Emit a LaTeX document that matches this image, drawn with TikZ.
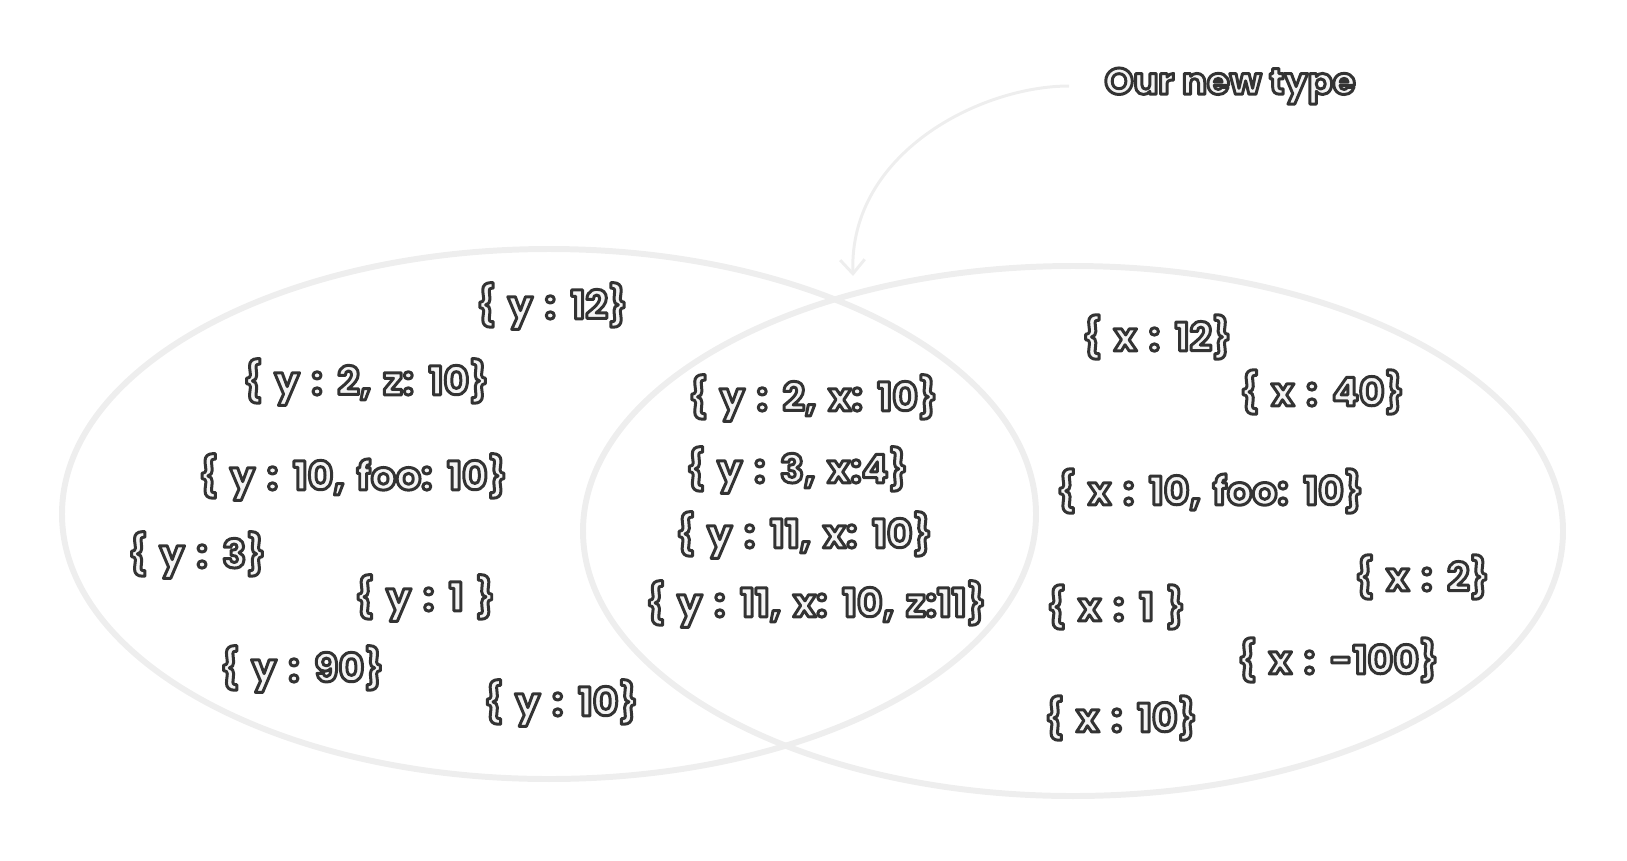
\documentclass[tikz,border=0pt]{standalone}
\usepackage{fontspec}
\setmainfont{Poppins}
\usetikzlibrary{positioning, arrows.meta}
\definecolor{setGray}{HTML}{EEEEEE}
\definecolor{inkFill}{HTML}{F4F4F4}
% outlined lettering: fill light, stroke dark
\newcommand{\handtext}[1]{\textcolor{inkFill}{\special{pdf:literal direct 0.2 0.2 0.2 RG 2 Tr 1.7 w 1 j}#1\special{pdf:literal direct 0 Tr}}}
\newcommand{\valuefont}{\fontsize{22.5}{26}\selectfont\bfseries\spaceskip=0.3em\relax}
\newcommand{\titlefont}{\fontsize{21}{25}\selectfont\bfseries\relax}
\tikzstyle{valueLabel} =[font=\valuefont, inner sep=0pt]
\tikzstyle{setLine} =[draw=setGray, line width=3.4pt]

\begin{document}
\begin{tikzpicture}[x=0.02cm, y=-0.02cm]
\useasboundingbox (0,0) rectangle (1627,860);

% the two sets
\draw[setLine] (549,514) ellipse [x radius=487, y radius=265];
\draw[setLine] (1073,531) ellipse [x radius=490, y radius=265];

\node (newTypeTitle) [valueLabel, font=\titlefont] at (1230,86) {\handtext{Our new type}};
\coordinate (overlapTop) at (853,276);
\draw[-{Straight Barb[length=8pt, width=14pt]}, line width=1.7pt, setGray, shorten <=20pt]
	(newTypeTitle.west) to[out=180, in=92] (overlapTop);

% only y
\node (yTwelve) [valueLabel] at (552,306) {\handtext{\{ y : 12\}}};
\node (yTwoZ) [valueLabel] at (366,382) {\handtext{\{ y : 2, z: 10\}}};
\node (yTenFoo) [valueLabel] at (353,477) {\handtext{\{ y : 10, foo: 10\}}};
\node (yThree) [valueLabel] at (197,555) {\handtext{\{ y : 3\}}};
\node (yOne) [valueLabel] at (425,598) {\handtext{\{ y : 1 \}}};
\node (yNinety) [valueLabel] at (302,669) {\handtext{\{ y : 90\}}};
\node (yTen) [valueLabel] at (561,703) {\handtext{\{ y : 10\}}};

% both
\node (xyTwo) [valueLabel] at (813,398) {\handtext{\{ y : 2, x: 10\}}};
\node (xyThree) [valueLabel] at (797,470) {\handtext{\{ y : 3, x:4\}}};
\node (xyEleven) [valueLabel] at (804,535) {\handtext{\{ y : 11, x: 10\}}};
\node (xyzEleven) [valueLabel] at (816,604) {\handtext{\{ y : 11, x: 10, z:11\}}};

% only x
\node (xTwelve) [valueLabel] at (1157,337) {\handtext{\{ x : 12\}}};
\node (xForty) [valueLabel] at (1322,392) {\handtext{\{ x : 40\}}};
\node (xTenFoo) [valueLabel] at (1210,491) {\handtext{\{ x : 10, foo: 10\}}};
\node (xTwo) [valueLabel] at (1422,577) {\handtext{\{ x : 2\}}};
\node (xOne) [valueLabel] at (1116,607) {\handtext{\{ x : 1 \}}};
\node (xMinus) [valueLabel] at (1338,660) {\handtext{\{ x : -100\}}};
\node (xTen) [valueLabel] at (1121,718) {\handtext{\{ x : 10\}}};
\end{tikzpicture}
\end{document}
